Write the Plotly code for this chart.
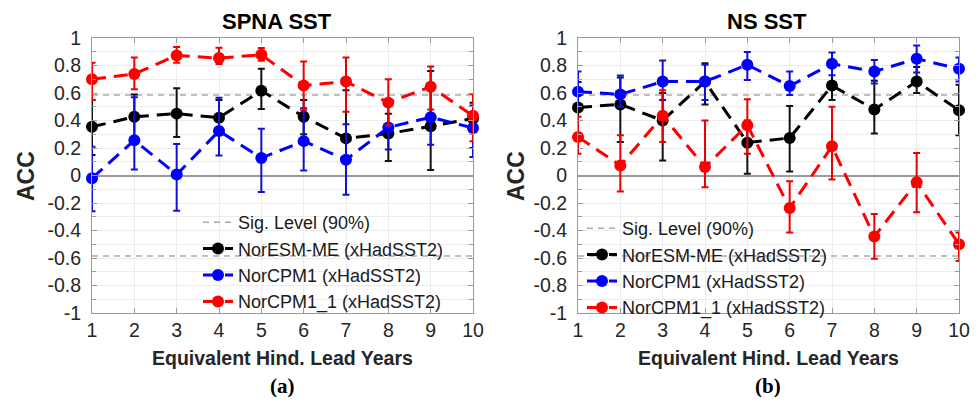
import plotly.graph_objects as go

lead_years = [1, 2, 3, 4, 5, 6, 7, 8, 9, 10]
sig_level = 0.585

# Panel (a) SPNA SST
spna_noresm = [0.354, 0.427, 0.45, 0.42, 0.617, 0.427, 0.27, 0.305, 0.358, 0.415]
spna_noresm_hi = [0.55, 0.59, 0.634, 0.55, 0.776, 0.55, 0.62, 0.45, 0.76, 0.53]
spna_noresm_lo = [0.15, 0.25, 0.28, 0.3, 0.483, 0.3, 0.1, 0.105, 0.04, 0.2]

spna_norcpm1 = [-0.02, 0.256, 0.007, 0.324, 0.127, 0.25, 0.115, 0.35, 0.424, 0.346]
spna_norcpm1_hi = [0.21, 0.57, 0.23, 0.566, 0.34, 0.49, 0.373, 0.52, 0.62, 0.51]
spna_norcpm1_lo = [-0.26, 0.044, -0.256, 0.146, -0.12, 0.037, -0.14, 0.19, 0.224, 0.134]

spna_norcpm1_1 = [0.70, 0.739, 0.873, 0.854, 0.878, 0.654, 0.683, 0.53, 0.646, 0.434]
spna_norcpm1_1_hi = [0.82, 0.858, 0.934, 0.93, 0.927, 0.83, 0.858, 0.70, 0.793, 0.593]
spna_norcpm1_1_lo = [0.55, 0.627, 0.82, 0.81, 0.834, 0.475, 0.463, 0.366, 0.48, 0.25]

# Panel (b) NS SST
ns_noresm = [0.495, 0.517, 0.40, 0.683, 0.239, 0.273, 0.654, 0.48, 0.683, 0.475]
ns_noresm_hi = [0.68, 0.712, 0.6, 0.817, 0.4, 0.505, 0.79, 0.69, 0.79, 0.66]
ns_noresm_lo = [0.3, 0.244, 0.11, 0.517, 0.012, 0.029, 0.55, 0.305, 0.6, 0.293]

ns_norcpm1 = [0.61, 0.59, 0.683, 0.683, 0.805, 0.651, 0.812, 0.756, 0.849, 0.776]
ns_norcpm1_hi = [0.756, 0.727, 0.837, 0.805, 0.898, 0.756, 0.895, 0.84, 0.946, 0.858]
ns_norcpm1_lo = [0.5, 0.5, 0.55, 0.55, 0.695, 0.585, 0.73, 0.67, 0.75, 0.683]

ns_norcpm1_1 = [0.28, 0.073, 0.434, 0.061, 0.366, -0.237, 0.212, -0.444, -0.049, -0.5]
ns_norcpm1_1_hi = [0.427, 0.293, 0.62, 0.4, 0.554, -0.041, 0.5, -0.28, 0.163, -0.415]
ns_norcpm1_1_lo = [0.159, -0.117, 0.244, -0.085, 0.159, -0.415, -0.029, -0.605, -0.268, -0.622]

names = ["NorESM-ME (xHadSST2)", "NorCPM1 (xHadSST2)", "NorCPM1_1 (xHadSST2)"]
colors = ["#000000", "#0000ff", "#ff0000"]
err_colors = ["#111111", "#1010dd", "#ee0000"]

panels = [
    dict(series=[(spna_noresm, spna_noresm_hi, spna_noresm_lo),
                 (spna_norcpm1, spna_norcpm1_hi, spna_norcpm1_lo),
                 (spna_norcpm1_1, spna_norcpm1_1_hi, spna_norcpm1_1_lo)],
         xa="x", ya="y", legend="legend"),
    dict(series=[(ns_noresm, ns_noresm_hi, ns_noresm_lo),
                 (ns_norcpm1, ns_norcpm1_hi, ns_norcpm1_lo),
                 (ns_norcpm1_1, ns_norcpm1_1_hi, ns_norcpm1_1_lo)],
         xa="x2", ya="y2", legend="legend2"),
]

fig = go.Figure()
for p in panels:
    fig.add_trace(go.Scatter(
        x=[lead_years[0], lead_years[-1], None, lead_years[0], lead_years[-1]],
        y=[sig_level, sig_level, None, -sig_level, -sig_level],
        mode="lines", line=dict(color="#aaaaaa", width=1.6, dash="6px,5px"),
        name="Sig. Level (90%)", xaxis=p["xa"], yaxis=p["ya"], legend=p["legend"],
        hoverinfo="skip"))
    for (vals, hi, lo), nm, c, ec in zip(p["series"], names, colors, err_colors):
        fig.add_trace(go.Scatter(
            x=lead_years, y=vals, mode="lines+markers", name=nm,
            line=dict(color=c, width=3, dash="14px,8px"),
            marker=dict(color=c, size=12),
            cliponaxis=False,
            error_y=dict(type="data", symmetric=False,
                         array=[h - v for h, v in zip(hi, vals)],
                         arrayminus=[v - l for v, l in zip(vals, lo)],
                         color=ec, thickness=2, width=3.5),
            xaxis=p["xa"], yaxis=p["ya"], legend=p["legend"]))

# The page body has an 8px margin, so the figure is drawn 8px in from the
# window's top-left corner; positions below are given in window pixels.
OFF = 8
W, H = 978 - OFF, 404 - OFF
def px(x):
    return (x - OFF) / W
def py(y):
    return 1 - (y - OFF) / H

tickfont = dict(family="Liberation Sans, Arial", size=19.5, color="#262626")
axis_common = dict(showline=True, linecolor="#9a9a9a", linewidth=1, mirror="ticks",
                   ticks="inside", ticklen=5, tickcolor="#9a9a9a", tickfont=tickfont,
                   showgrid=True, gridcolor="#ececec", gridwidth=1, zeroline=False)

xaxis_cfg = dict(range=[1, 10], tickmode="array", tickvals=lead_years,
                 ticktext=[str(v) for v in lead_years], **axis_common)
yaxis_cfg = dict(range=[-1, 1], tickmode="array",
                 tickvals=[-1, -0.8, -0.6, -0.4, -0.2, 0, 0.2, 0.4, 0.6, 0.8, 1],
                 ticktext=["-1", "-0.8", "-0.6", "-0.4", "-0.2", "0", "0.2", "0.4", "0.6", "0.8", "1"],
                 minor=dict(dtick=0.1, showgrid=True, gridcolor="#ececec", ticks="inside",
                            ticklen=4, tickcolor="#9a9a9a"),
                 ticklabelstandoff=6, **axis_common)
yaxis_cfg["zeroline"] = True
yaxis_cfg["zerolinecolor"] = "#9a9a9a"
yaxis_cfg["zerolinewidth"] = 1.5

legend_font = dict(family="Liberation Sans, Arial", size=18, color="#1a1a1a")
fig.update_layout(
    width=W, height=H, margin=dict(l=0, r=0, t=0, b=0, autoexpand=False),
    paper_bgcolor="white", plot_bgcolor="white",
    xaxis=dict(domain=[px(92), px(473)], anchor="y", automargin=False, **xaxis_cfg),
    yaxis=dict(domain=[py(313), py(38)], anchor="x", automargin=False, **yaxis_cfg),
    xaxis2=dict(domain=[px(578), px(959)], anchor="y2", automargin=False, **xaxis_cfg),
    yaxis2=dict(domain=[py(313), py(38)], anchor="x2", automargin=False, **yaxis_cfg),
    legend=dict(x=px(198), y=py(204), xanchor="left", yanchor="top",
                bgcolor="rgba(0,0,0,0)", borderwidth=0, font=legend_font,
                tracegroupgap=0, itemwidth=30),
    legend2=dict(x=px(582), y=py(210), xanchor="left", yanchor="top",
                 bgcolor="rgba(0,0,0,0)", borderwidth=0, font=legend_font,
                 tracegroupgap=0, itemwidth=30),
    showlegend=True,
)

annots = [
    ("SPNA SST", 277, 21, 22, "Liberation Sans, Arial", "#000000", 0, 22),
    ("NS SST", 767, 21, 22, "Liberation Sans, Arial", "#000000", 0, 22),
    ("ACC", 26, 176, 23, "Liberation Sans, Arial", "#262626", -90, None),
    ("ACC", 516, 176, 23, "Liberation Sans, Arial", "#262626", -90, None),
    ("Equivalent Hind. Lead Years", 282, 358, 19.5, "Liberation Sans, Arial", "#262626", 0, None),
    ("Equivalent Hind. Lead Years", 768, 358, 19.5, "Liberation Sans, Arial", "#262626", 0, None),
    ("(a)", 282, 386, 21, "Liberation Serif, Times New Roman", "#000000", 0, 22),
    ("(b)", 768, 386, 21, "Liberation Serif, Times New Roman", "#000000", 0, 22),
]
for text, x, y, size, fam, col, ang, hgt in annots:
    kw = dict(height=hgt, borderpad=0) if hgt else {}
    fig.add_annotation(text="<b>%s</b>" % text, x=px(x), y=py(y), xref="paper", yref="paper",
                       xanchor="center", yanchor="middle", showarrow=False, textangle=ang,
                       font=dict(family=fam, size=size, color=col), **kw)

fig.write_html("out.html")
